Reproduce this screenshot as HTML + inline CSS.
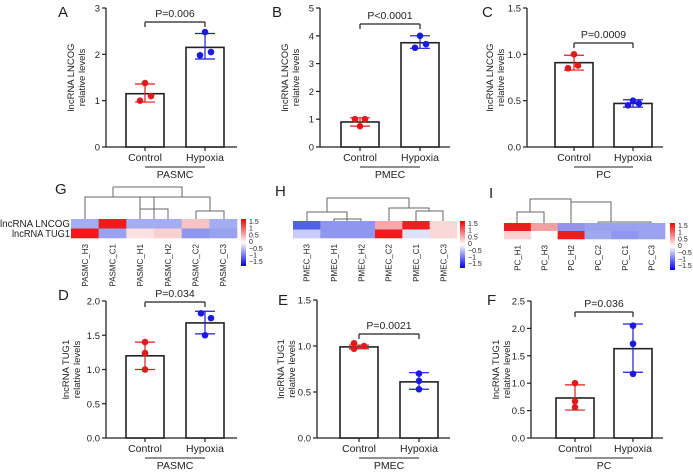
<!DOCTYPE html>
<html><head><meta charset="utf-8"><style>
html,body{margin:0;padding:0;background:#fff}
svg text{font-family:"Liberation Sans",Arial,sans-serif;fill:#222}
</style></head><body>
<svg id="s" width="693" height="469" viewBox="0 0 693 469" xmlns="http://www.w3.org/2000/svg"></svg>
<script>
var s=document.getElementById('s'),h='';
function L(x1,y1,x2,y2,c,w){h+='<line x1="'+x1+'" y1="'+y1+'" x2="'+x2+'" y2="'+y2+'" stroke="'+(c||'#222')+'" stroke-width="'+(w||1.2)+'"/>';}
function T(x,y,t,sz,a,extra){h+='<text x="'+x+'" y="'+y+'" font-size="'+sz+'" text-anchor="'+(a||'middle')+'" '+(extra||'')+'>'+t+'</text>';}
function panel(p){
 var ax=p.ax,top=p.top,bot=p.bot,max=p.max;
 function Y(v){return bot-(bot-top)*v/max;}
 L(ax,top,ax,bot,'#222',1.3);L(ax,bot,p.xend,bot,'#222',1.3);
 p.ticks.forEach(function(t){L(ax-4,Y(t),ax,Y(t));T(ax-6,Y(t)+3.5,p.fmt(t),9.5,'end');});
 T(p.lx,p.ly,p.letter,15,'start');
 var cy=(top+bot)/2;
 T(p.yl,cy,p.ylab,9.5,'middle','transform="rotate(-90 '+p.yl+' '+cy+')"');
 T(p.yl+11,cy,'relative levels',9.5,'middle','transform="rotate(-90 '+(p.yl+11)+' '+cy+')"');
 var g=[p.c,p.hx];
 g.forEach(function(d,i){
  var x0=d.x,x1=d.x+38,cx=(x0+x1)/2,col=i?'#1a1ae0':'#e01a1a';
  h+='<rect x="'+x0+'" y="'+Y(d.m)+'" width="38" height="'+(bot-Y(d.m))+'" fill="#fff" stroke="#222" stroke-width="1.6"/>';
  L(cx,Y(d.e[0]),cx,Y(d.e[1]),col,1.2);L(cx-10,Y(d.e[0]),cx+10,Y(d.e[0]),col,1.2);L(cx-10,Y(d.e[1]),cx+10,Y(d.e[1]),col,1.2);
  d.p.forEach(function(q){h+='<circle cx="'+(cx+q[1])+'" cy="'+Y(q[0])+'" r="3.3" fill="'+col+'"/>';});
  L(cx,bot,cx,bot+4);
  T(cx,bot+14,i?'Hypoxia':'Control',10.5);
 });
 var c0=p.c.x+19,c1=p.hx.x+19;
 L(c0,bot+20,c1,bot+20,'#222',1);T((c0+c1)/2,bot+31,p.grp,10.5);
 L(c0,p.by+5,c0,p.by);L(c0,p.by,c1,p.by);L(c1,p.by,c1,p.by+5);
 T((c0+c1)/2,p.by-5,p.pt,10.5);
}
var f0=function(t){return ''+t},f1=function(t){return t.toFixed(1)};
var R='#ee1c1c';
panel({ax:106,top:8,bot:147,max:3,xend:237,ticks:[0,1,2,3],fmt:f0,letter:'A',lx:58,ly:17,yl:74,ylab:'lncRNA LNCOG',grp:'PASMC',by:22,pt:'P=0.006',
 c:{x:126,m:1.15,e:[0.97,1.36],p:[[1.38,0],[1.0,-5],[1.1,6]]},hx:{x:186,m:2.15,e:[1.9,2.45],p:[[2.48,0],[1.98,-5],[2.05,6]]}});
panel({ax:320,top:8,bot:147,max:5,xend:450,ticks:[0,1,2,3,4,5],fmt:f0,letter:'B',lx:272,ly:17,yl:288,ylab:'lncRNA LNCOG',grp:'PMEC',by:24,pt:'P&lt;0.0001',
 c:{x:341,m:0.9,e:[0.75,1.05],p:[[1.0,-5],[0.75,0],[1.0,5]]},hx:{x:401,m:3.75,e:[3.55,4.0],p:[[4.0,0],[3.57,-5],[3.7,6]]}});
panel({ax:527,top:8,bot:147,max:1.5,xend:663,ticks:[0,0.5,1,1.5],fmt:f1,letter:'C',lx:482,ly:17,yl:493,ylab:'lncRNA LNCOG',grp:'PC',by:43,pt:'P=0.0009',
 c:{x:555,m:0.91,e:[0.83,0.99],p:[[1.0,0],[0.85,-6],[0.88,4]]},hx:{x:614,m:0.47,e:[0.43,0.51],p:[[0.5,0],[0.45,-5],[0.47,6]]}});
panel({ax:106,top:301,bot:438,max:2,xend:237,ticks:[0,0.5,1,1.5,2],fmt:f1,letter:'D',lx:58,ly:300,yl:69,ylab:'lncRNA TUG1',grp:'PASMC',by:302,pt:'P=0.034',
 c:{x:126,m:1.2,e:[1.0,1.4],p:[[1.4,0],[1.24,0],[1.0,0]]},hx:{x:186,m:1.68,e:[1.52,1.85],p:[[1.82,-4],[1.75,6],[1.5,0]]}});
panel({ax:317,top:300,bot:438,max:1.5,xend:450,ticks:[0,0.5,1,1.5],fmt:f1,letter:'E',lx:278,ly:305,yl:284,ylab:'lncRNA TUG1',grp:'PMEC',by:334,pt:'P=0.0021',
 c:{x:340,m:0.99,e:[0.97,1.01],p:[[1.03,-5],[0.97,-5],[1.0,5]]},hx:{x:400,m:0.61,e:[0.53,0.71],p:[[0.7,0],[0.62,0],[0.53,0]]}});
panel({ax:531,top:301,bot:438,max:2.5,xend:663,ticks:[0,0.5,1,1.5,2,2.5],fmt:f1,letter:'F',lx:487,ly:305,yl:499,ylab:'lncRNA TUG1',grp:'PC',by:312,pt:'P=0.036',
 c:{x:556,m:0.73,e:[0.51,0.97],p:[[1.0,0],[0.67,0],[0.56,0]]},hx:{x:614,m:1.63,e:[1.2,2.08],p:[[2.05,0],[1.72,0],[1.17,0]]}});
function heat(o){
 var w=(o.x1-o.x0)/6;
 for(var i=0;i<6;i++){for(var r=0;r<2;r++){h+='<rect x="'+(o.x0+i*w)+'" y="'+(o.y0+r*o.rh)+'" width="'+(w+0.3)+'" height="'+(o.rh+0.3)+'" fill="'+o.c[r][i]+'"/>';}
  var cx=o.x0+i*w+w/2+3;T(cx,o.y0+2*o.rh+6,o.n[i],8,'end','transform="rotate(-90 '+cx+' '+(o.y0+2*o.rh+6)+')"');}
 h+='<path d="'+o.d+'" fill="none" stroke="#666" stroke-width="1"/>';
 var cb=o.cb;
 h+='<defs><linearGradient id="g'+o.id+'" x1="0" y1="0" x2="0" y2="1"><stop offset="0" stop-color="#ee0000"/><stop offset="0.5" stop-color="#ffffff"/><stop offset="1" stop-color="#0000ee"/></linearGradient></defs>';
 h+='<rect x="'+cb+'" y="'+o.y0+'" width="5" height="47" fill="url(#g'+o.id+')"/>';
 ['1.5','1','0.5','0','−0.5','−1','−1.5'].forEach(function(t,k){T(cb+8,o.y0+5+k*6.7,t,7,'start');});
 T(o.lx,o.y0-25,o.letter,15,'start');
}
var lb='#a4acf2',mb='#8e96ee';
heat({id:1,x0:71,x1:237,y0:219,rh:9.5,cb:241,letter:'G',lx:55,n:['PASMC_H3','PASMC_C1','PASMC_H1','PASMC_H2','PASMC_C2','PASMC_C3'],
 c:[[lb,R,lb,lb,'#f7c4c4',lb],[R,'#9aa2f0','#fbe0e0','#f8d0d0',mb,'#9aa2f0']],
 d:'M85,219V197H154V219 M113,197V187 M113,187H182V197 M182,197H140V219 M140,209H168V219 M168,209H154 M182,197H210V211 M196,211H224V219 M196,211V219'});
heat({id:2,x0:293,x1:457,y0:221,rh:8.5,cb:460,letter:'H',lx:275,n:['PMEC_H3','PMEC_H1','PMEC_H2','PMEC_C2','PMEC_C1','PMEC_C3'],
 c:[['#5060e8',mb,mb,'#f7a8a8','#f02020','#fad8d8'],['#c8ccf6',mb,mb,R,'#e0e2fa','#fad8d8']],
 d:'M307,221V212H347V221 M327,212V198H409V208 M334,221V219H361V221 M389,221V208H429V211 M416,221V211H443V221 M429,211'});
heat({id:3,x0:504,x1:665,y0:223,rh:8,cb:670,letter:'I',lx:489,n:['PC_H1','PC_H3','PC_H2','PC_C2','PC_C1','PC_C3'],
 c:[[R,'#f5a0a0',mb,'#9aa2f0','#9aa2f0','#9aa2f0'],['#fbd0d0','#ffffff',R,'#a0a8f0',mb,'#9aa2f0']],
 d:'M517,223V212H544V223 M530,212V199H571V203 M571,203V223 M571,202H611V222 M598,222H651V223 M598,222V223'});
h+='<text x="0" y="227" font-size="10" textLength="70" lengthAdjust="spacingAndGlyphs">lncRNA LNCOG</text><text x="12" y="237" font-size="10" textLength="58" lengthAdjust="spacingAndGlyphs">lncRNA TUG1</text>';
s.innerHTML=h;
</script>
</body></html>
